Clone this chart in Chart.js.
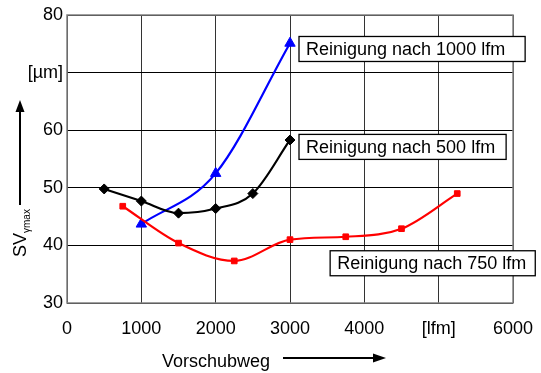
<html>
<head>
<script src="https://cdn.jsdelivr.net/npm/chart.js"></script>
<style>
  body { margin: 0; background: #fff; }
  #box { width: 541px; height: 373px; }
</style>
</head>
<body>
<div id="box"><canvas id="myChart" width="541" height="373"></canvas></div>
<script>
// values
const x500 = [500, 1000, 1500, 2000, 2500, 3000];
const y500 = [49.8, 47.7, 45.6, 46.4, 49.0, 58.3];
const x1000 = [1000, 2000, 3000];
const y1000 = [43.7, 52.5, 75.1];
const x750 = [750, 1500, 2250, 3000, 3750, 4500, 5250];
const y750 = [46.8, 40.4, 37.3, 41.0, 41.5, 42.9, 49.0];
const seriesNames = ['Reinigung nach 1000 lfm', 'Reinigung nach 500 lfm', 'Reinigung nach 750 lfm'];
const xTicks = [0, 1000, 2000, 3000, 4000, '[lfm]', 6000];
const yTicks = [30, 40, 50, 60, '[\u00b5m]', 80];

const FONT = "'Liberation Sans', Arial, sans-serif";

function pts(xs, ys) {
    var out = [];
    for (var i = 0; i < xs.length; i++) out.push({x: xs[i], y: ys[i]});
    return out;
}

function line(label, xs, ys, color, shape, r) {
    return {
        label: label,
        data: pts(xs, ys),
        borderColor: color,
        backgroundColor: color,
        pointBackgroundColor: color,
        pointBorderColor: color,
        borderWidth: 2.2,
        pointStyle: shape,
        pointRadius: r,
        pointBorderWidth: 1,
        cubicInterpolationMode: 'monotone'
    };
}

// frame, boxes and axis titles
const decor = {
    id: 'decor',
    beforeDatasetsDraw(chart) {
        const a = chart.chartArea, ctx = chart.ctx;
        ctx.save();
        ctx.strokeStyle = '#808080';
        ctx.lineWidth = 1.5;
        ctx.strokeRect(a.left, a.top, a.right - a.left, a.bottom - a.top);
        ctx.restore();
    },
    afterDatasetsDraw(chart) {
        const ctx = chart.ctx, xs = chart.scales.x, ys = chart.scales.y;
        const notes = [
            {t: seriesNames[0], x: 3000, y: 74.1, dx: 9, pr: 20},
            {t: seriesNames[1], x: 3000, y: 57.1, dx: 9, pr: 11},
            {t: seriesNames[2], x: 3540, y: 36.9, dx: 0, pr: 9}
        ];
        ctx.save();
        ctx.font = '18px ' + FONT;
        ctx.textBaseline = 'middle';
        notes.forEach(function (n) {
            var left = xs.getPixelForValue(n.x) + n.dx;
            var cy = ys.getPixelForValue(n.y);
            var w = ctx.measureText(n.t).width + 7 + n.pr;
            ctx.fillStyle = '#fff';
            ctx.fillRect(left, cy - 12.5, w, 25);
            ctx.strokeStyle = '#000';
            ctx.lineWidth = 1.3;
            ctx.strokeRect(left, cy - 12.5, w, 25);
            ctx.fillStyle = '#000';
            ctx.fillText(n.t, left + 7, cy + 1);
        });

        // y title, rotated
        ctx.save();
        ctx.translate(26, 257);
        ctx.rotate(-Math.PI / 2);
        ctx.textBaseline = 'alphabetic';
        ctx.font = '18px ' + FONT;
        ctx.fillText('SV', 0, 0);
        var w = ctx.measureText('SV').width;
        ctx.font = '10px ' + FONT;
        ctx.fillText('\u03b3max', w, 4);
        ctx.restore();

        // arrows
        ctx.strokeStyle = '#000';
        ctx.fillStyle = '#000';
        ctx.lineWidth = 2;
        ctx.beginPath();
        ctx.moveTo(20, 205); ctx.lineTo(20, 110);
        ctx.stroke();
        ctx.beginPath();
        ctx.moveTo(20, 100); ctx.lineTo(15.5, 112); ctx.lineTo(24.5, 112);
        ctx.closePath(); ctx.fill();

        ctx.font = '18px ' + FONT;
        ctx.textBaseline = 'alphabetic';
        ctx.fillText('Vorschubweg', 162, 367);
        ctx.beginPath();
        ctx.moveTo(283, 358); ctx.lineTo(375, 358);
        ctx.stroke();
        ctx.beginPath();
        ctx.moveTo(386, 358); ctx.lineTo(373, 353.5); ctx.lineTo(373, 362.5);
        ctx.closePath(); ctx.fill();
        ctx.restore();
    }
};

new Chart(document.getElementById('myChart'), {
    type: 'line',
    data: {
        datasets: [
            line(seriesNames[1], x500, y500, '#000000', 'rectRot', 5),
            line(seriesNames[2], x750, y750, '#ff0000', 'rect', 4),
            line(seriesNames[0], x1000, y1000, '#0000ff', 'triangle', 6)
        ]
    },
    options: {
        responsive: false,
        animation: false,
        layout: { padding: { left: 0, top: 15, right: 28, bottom: 0 } },
        plugins: { legend: { display: false }, tooltip: { enabled: false } },
        scales: {
            x: {
                type: 'linear', min: 0, max: 6000,
                afterFit: function (s) { s.height = 70; s.paddingLeft = 0; s.paddingRight = 0; },
                border: { display: false },
                grid: { color: '#333', lineWidth: 1, drawTicks: false },
                ticks: {
                    stepSize: 1000, padding: 15, color: '#000',
                    font: { family: FONT, size: 18 },
                    maxRotation: 0,
                    callback: function (v) { return xTicks[Math.round(v / 1000)]; }
                }
            },
            y: {
                min: 30, max: 80,
                afterFit: function (s) { s.width = 67; s.paddingTop = 0; s.paddingBottom = 0; },
                border: { display: false },
                grid: { color: '#000', lineWidth: 1, drawTicks: false },
                ticks: {
                    stepSize: 10, padding: 4, color: '#000',
                    font: { family: FONT, size: 18 },
                    callback: function (v) { return yTicks[Math.round((v - 30) / 10)]; }
                }
            }
        }
    },
    plugins: [decor]
});
</script>
</body>
</html>
